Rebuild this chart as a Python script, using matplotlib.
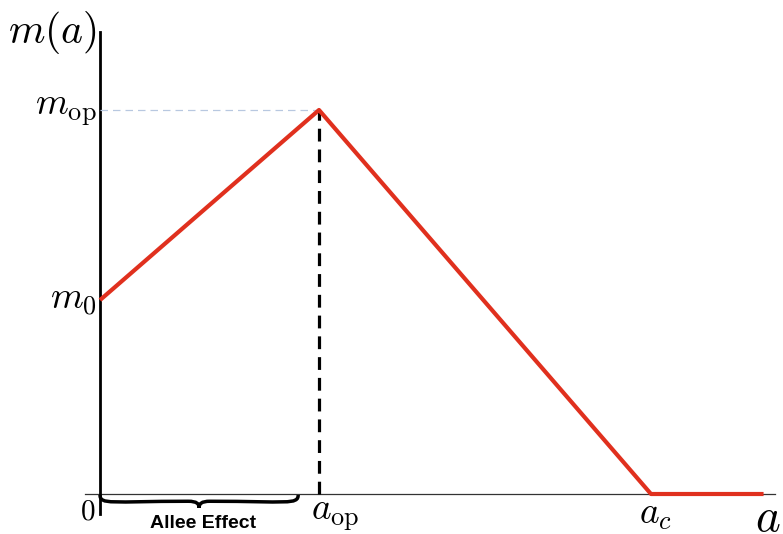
import numpy as np
import matplotlib.pyplot as plt
from matplotlib.path import Path
from matplotlib.patches import PathPatch

plt.rcParams['mathtext.fontset'] = 'cm'

# piecewise linear m(a)
a_pts = [0.0, 1.0, 2.516, 3.03]
m_pts = [0.505, 1.0, 0.0, 0.0]
a_op = 1.0
a_c = 2.516
m_op = 1.0
m_0 = 0.505
allee_end = 0.905

fig = plt.figure(figsize=(7.83, 5.34), dpi=100)
ax = fig.add_axes([0, 0, 1, 1])
ax.set_xlim(-100 / 219, 683 / 219)
ax.set_ylim(-40 / 384, 494 / 384)
ax.axis('off')

# axes
ax.plot([-15 / 219, 675 / 219], [0, 0], color='#333333', lw=0.9)
ax.plot([0, 0], [-20 / 384, 462 / 384], color='black', lw=2)

# guide lines
ax.plot([0, a_op], [m_op, m_op], color='#b8c8e0', lw=0.9, dashes=(6, 4))
ax.plot([a_op, a_op], [0, m_op], color='black', lw=2.3, dashes=(4, 2.5))

# curve
ax.plot(a_pts, m_pts, color='#e0301e', lw=3, solid_capstyle='butt')

# brace under the axis
x0, x1 = 0.0, allee_end
xm = (x0 + x1) / 2
y0 = -0.002
h = 13 / 384
verts = [(x0, y0), (x0, y0 - h * 0.8), (x0 + 0.05, y0 - h * 0.5), (xm - 0.05, y0 - h * 0.5),
         (xm - 0.01, y0 - h * 0.5), (xm, y0 - h * 0.7), (xm, y0 - h),
         (xm, y0 - h * 0.7), (xm + 0.01, y0 - h * 0.5), (xm + 0.05, y0 - h * 0.5),
         (x1 - 0.05, y0 - h * 0.5), (x1, y0 - h * 0.8), (x1, y0)]
codes = [Path.MOVETO, Path.CURVE4, Path.CURVE4, Path.CURVE4,
         Path.CURVE4, Path.CURVE4, Path.CURVE4,
         Path.CURVE4, Path.CURVE4, Path.CURVE4,
         Path.CURVE4, Path.CURVE4, Path.CURVE4]
ax.add_patch(PathPatch(Path(verts, codes), fill=False, lw=2.5, color='black'))
ax.text(xm + 0.02, -29 / 384, 'Allee Effect', ha='center', va='center',
        fontsize=14, fontweight='bold', family='Liberation Sans')

# labels
ax.text(-0.42, 462 / 384, r'$m(a)$', fontsize=30, ha='left', va='center')
ax.text(-0.015, m_op, r'$m_{\rm op}$', fontsize=27, ha='right', va='center')
ax.text(-0.015, m_0, r'$m_0$', fontsize=27, ha='right', va='center')
ax.text(-0.055, -18 / 384, r'$0$', fontsize=21, ha='center', va='center')
ax.text(a_op + 0.075, -21 / 384, r'$a_{\rm op}$', fontsize=27, ha='center', va='center')
ax.text(a_c + 0.022, -20 / 384, r'$a_c$', fontsize=27, ha='center', va='center')
ax.text(3.05, -24 / 384, r'$a$', fontsize=34, ha='center', va='center')

fig.savefig('out.png', dpi=100)
